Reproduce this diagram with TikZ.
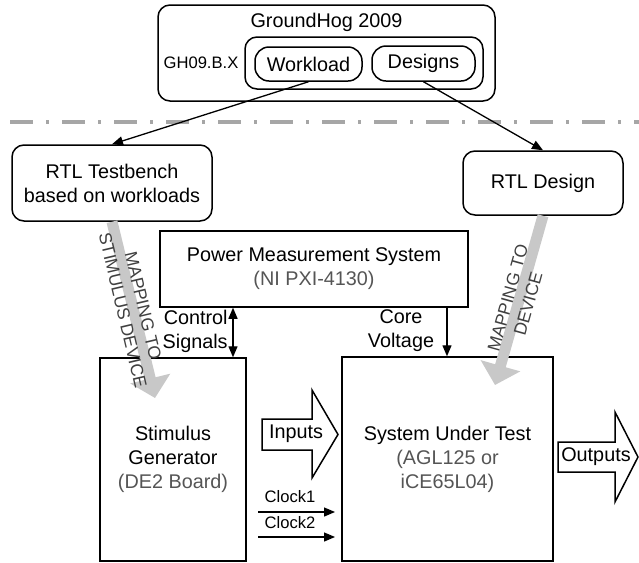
\documentclass[tikz,border=0pt]{standalone}
\usepackage{fontspec}
\setmainfont{Liberation Sans}
\usetikzlibrary{arrows.meta,calc}
\definecolor{txtgray}{RGB}{85,85,85}
\definecolor{maptxt}{RGB}{64,64,64}
\definecolor{arrgray}{RGB}{200,200,200}
\definecolor{linegray}{RGB}{166,166,166}
\newcommand\mainsz{\fontsize{9.9}{12}\selectfont}
\newcommand\smallsz{\fontsize{8.3}{10}\selectfont}
\newcommand\mapsz{\fontsize{8.8}{10.5}\selectfont}
\tikzset{
  box/.style={draw, line width=0.75pt, rectangle, align=center, font=\mainsz, inner sep=0pt, fill=white},
  rbox/.style={box, rounded corners=6pt},
  conn/.style={line width=0.65pt, -{Triangle[length=5.5pt,width=4.5pt]}},
  dconn/.style={line width=0.65pt, {Triangle[length=5.5pt,width=4.5pt]}-{Triangle[length=5.5pt,width=4.5pt]}},
  bigarrow/.style={draw=arrgray, line width=5.5pt, -{Triangle[length=10pt,width=20pt]}, arrgray},
  maplabel/.style={font=\mapsz, text=maptxt, align=center, inner sep=0pt},
  blockarrow/.style={draw, line width=0.75pt, fill=white, line join=miter},
  lbl/.style={font=\mainsz, inner sep=0pt},
  slbl/.style={font=\smallsz, inner sep=0pt},
  sep/.style={draw=linegray, line width=1.75pt, dash pattern=on 11.5pt off 6.5pt on 1.5pt off 6.5pt, dash phase=21pt}
}
\begin{document}
\begin{tikzpicture}[x=0.5pt, y=-0.5pt]
\useasboundingbox (0,0) rectangle (639,563);

% top group
\node[rbox, minimum width=168.5pt, minimum height=48pt] (gh) at (326.5,53) {};
\node[lbl] (ghtitle) at (326.5,22) {GroundHog 2009};
\node[rbox, minimum width=119pt, minimum height=26pt] (inner) at (364,63) {};
\node[rbox, rounded corners=7pt, minimum width=53.5pt, minimum height=17pt] (wl) at (308.5,64) {Workload};
\node[rbox, rounded corners=7pt, minimum width=51.5pt, minimum height=17.5pt] (ds) at (423.5,63.5) {Designs};
\node[slbl] (ghx) at (201,63) {GH09.B.X};

% separator
\coordinate (sepL) at (0,122);
\coordinate (sepR) at (639,122);
\draw[sep] (sepL) -- (sepR);

% RTL boxes
\node[rbox, minimum width=100pt, minimum height=38pt] (tb) at (112,183) {RTL Testbench\\based on workloads};
\node[rbox, minimum width=80pt, minimum height=32pt] (rd) at (543,183) {RTL Design};

\draw[conn] (wl.south) -- (tb.north);
\draw[conn] (ds.south) -- (rd.north);

% power measurement
\node[box, minimum width=154pt, minimum height=38pt] (pm) at (314,269) {Power Measurement System\\\textcolor{txtgray}{(NI PXI-4130)}};

% stimulus and SUT
\node[box, minimum width=73pt, minimum height=101.5pt] (sg) at (173,459.5) {Stimulus\\Generator\\\textcolor{txtgray}{(DE2 Board)}};
\node[box, minimum width=105.5pt, minimum height=102pt] (sut) at (447.5,459) {System Under Test\\\textcolor{txtgray}{(AGL125 or}\\\textcolor{txtgray}{iCE65L04)}};

% control signals & core voltage
\draw[dconn] (pm.south -| 233,0) -- (sg.north -| 233,0);
\node[lbl, anchor=east, align=right] (cs) at (228,331) {Control\\Signals};
\draw[conn] (pm.south -| 447,0) -- (sut.north -| 447,0);
\node[lbl, align=center] (cv) at (401,331) {Core\\Voltage};

% inputs block arrow
\draw[blockarrow] (262,419) -- (312,419) -- (312,390) -- (338,434.5) -- (312,478) -- (312,450) -- (262,450) -- cycle;
\node[lbl] (inp) at (296,434) {Inputs};

% outputs block arrow
\draw[blockarrow] (558,442) -- (615,442) -- (615,412) -- (638,457) -- (615,502) -- (615,472) -- (558,472) -- cycle;
\node[lbl] (outp) at (596,457) {Outputs};

% clocks
\coordinate (c1s) at (258,512);
\coordinate (c1e) at (335,512);
\coordinate (c2s) at (258,537);
\coordinate (c2e) at (335,537);
\draw[conn] (c1s) -- (c1e);
\draw[conn] (c2s) -- (c2e);
\node[slbl] (ck1) at (290,497) {Clock1};
\node[slbl] (ck2) at (290,523) {Clock2};

% gray mapping arrows
\coordinate (lt) at (155,398);
\coordinate (rt) at (495,385);
\draw[bigarrow] (tb.south) -- (lt);
\draw[bigarrow] (rd.south) -- (rt);
\node[maplabel, rotate=-76.7] (m1) at (133,308) {MAPPING TO\\STIMULUS DEVICE};
\node[maplabel, rotate=74.5] (m2) at (518,301) {MAPPING TO\\DEVICE};
\end{tikzpicture}
\end{document}
